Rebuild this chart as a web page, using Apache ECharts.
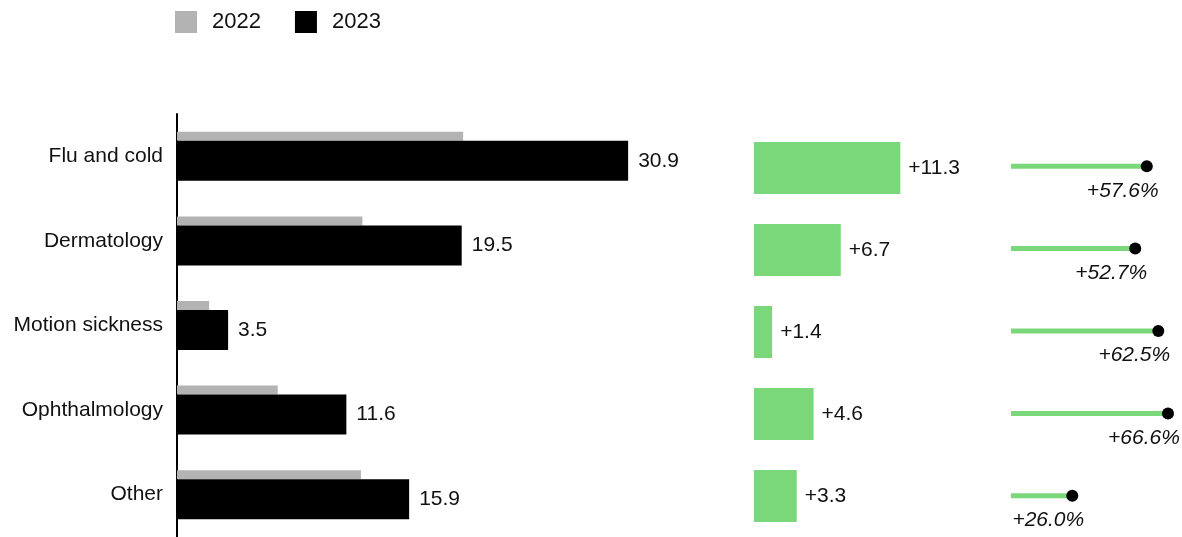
<!DOCTYPE html>
<html>
<head>
<meta charset="utf-8">
<script src="https://cdn.jsdelivr.net/npm/echarts@6/dist/echarts.min.js"></script>
<style>
  html, body { margin: 0; padding: 0; background: #fff; }
  #main { width: 1182px; height: 537px; }
</style>
</head>
<body>
<div id="main"></div>
<script>
// categories, top to bottom
var categories = ['Flu and cold', 'Dermatology', 'Motion sickness', 'Ophthalmology', 'Other'];
// market size by year
var values2022 = [19.6, 12.7, 2.2, 6.9, 12.6];
var values2023 = [30.9, 19.5, 3.5, 11.6, 15.9];
// absolute change and percent change
var changeAbs = [11.3, 6.7, 1.4, 4.6, 3.3];
var changePct = [57.6, 52.7, 62.5, 66.6, 26.0];

var font = '"Liberation Sans", Arial, sans-serif';
var green = '#7ad77a';

var chart = echarts.init(document.getElementById('main'));

var hiddenCat = function (idx) {
  return {
    type: 'category', gridIndex: idx, data: categories, inverse: true,
    axisLine: { show: false }, axisTick: { show: false }, axisLabel: { show: false }
  };
};
var hiddenVal = function (idx, max) {
  return { type: 'value', gridIndex: idx, min: 0, max: max, show: false, splitLine: { show: false } };
};

var option = {
  animation: false,
  textStyle: { fontFamily: font },
  legend: {
    data: ['2022', '2023'],
    left: 170, top: 6,
    itemWidth: 22, itemHeight: 22, itemGap: 34,
    icon: 'rect',
    textStyle: { fontSize: 22, color: '#111', fontFamily: font, padding: [0, 0, 0, 10] }
  },
  grid: [
    { left: 177, top: 114, width: 511, height: 424 },
    { left: 754, top: 127, width: 259, height: 420 },
    { left: 1011, top: 125, width: 165, height: 421 }
  ],
  xAxis: [hiddenVal(0, 35), hiddenVal(1, 20), hiddenVal(2, 70)],
  yAxis: [
    {
      type: 'category', gridIndex: 0, data: categories, inverse: true,
      axisLine: { show: true, lineStyle: { color: '#000', width: 2 } },
      axisTick: { show: false },
      axisLabel: { fontSize: 21, color: '#111', margin: 14, fontFamily: font }
    },
    hiddenCat(1),
    hiddenCat(2)
  ],
  series: [
    {
      name: '2022', type: 'bar', xAxisIndex: 0, yAxisIndex: 0,
      data: values2022, barWidth: 9, barGap: '0%',
      itemStyle: { color: '#b3b3b3' }
    },
    {
      name: '2023', type: 'bar', xAxisIndex: 0, yAxisIndex: 0,
      data: values2023, barWidth: 40, barGap: '0%',
      itemStyle: { color: '#000' },
      label: {
        show: true, position: 'right', distance: 10,
        fontSize: 21, color: '#111', fontFamily: font,
        formatter: function (p) { return p.value.toFixed(1); }
      }
    },
    {
      name: 'Change', type: 'bar', xAxisIndex: 1, yAxisIndex: 1,
      data: changeAbs, barWidth: 52,
      itemStyle: { color: green },
      label: {
        show: true, position: 'right', distance: 8,
        fontSize: 21, color: '#111', fontFamily: font,
        formatter: function (p) { return '+' + p.value.toFixed(1); }
      }
    },
    {
      name: 'PctLine', type: 'bar', xAxisIndex: 2, yAxisIndex: 2,
      data: changePct, barWidth: 5,
      itemStyle: { color: green }
    },
    {
      name: 'PctDot', type: 'scatter', xAxisIndex: 2, yAxisIndex: 2,
      data: changePct.map(function (v, i) { return [v, categories[i]]; }),
      symbol: 'circle', symbolSize: 12,
      itemStyle: { color: '#000', opacity: 1 },
      label: {
        show: true, position: 'bottom', distance: 8, offset: [-24, 0],
        fontSize: 21, fontStyle: 'italic', color: '#111', fontFamily: font,
        formatter: function (p) { return '+' + p.value[0].toFixed(1) + '%'; }
      }
    }
  ]
};

chart.setOption(option);
</script>
</body>
</html>
